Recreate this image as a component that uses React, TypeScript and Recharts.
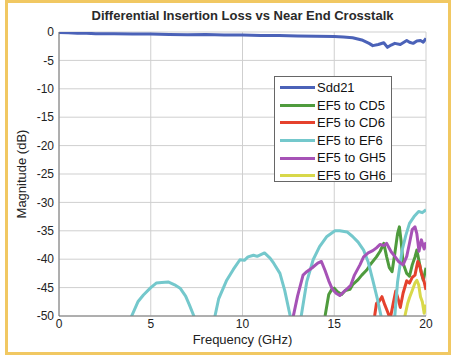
import React from 'react';
import { LineChart, Line, XAxis, YAxis, CartesianGrid, Legend } from 'recharts';

// ---- tick labels ----
const xTicks = [0, 5, 10, 15, 20];
const yTicks = [-50, -45, -40, -35, -30, -25, -20, -15, -10, -5, 0];

// ---- series names ----
const seriesNames = ['Sdd21', 'EF5 to CD5', 'EF5 to CD6', 'EF5 to EF6', 'EF5 to GH5', 'EF5 to GH6'];
const seriesColors = ['#4b62b8', '#4f9b3d', '#e5412d', '#74c8cc', '#a652b6', '#d8d84a'];

// ---- Sdd21 ----
const sdd21Freq = [0, 0.5, 1, 1.5, 2, 3, 4, 5, 6, 7, 8, 9, 10, 11, 12, 13, 14, 15, 15.5, 16, 16.5, 16.9, 17.1, 17.4, 17.7, 17.9, 18.1, 18.3, 18.6, 18.95, 19.1, 19.3, 19.5, 19.7, 19.85, 20];
const sdd21Mag = [-0.1, -0.15, -0.2, -0.22, -0.3, -0.3, -0.35, -0.35, -0.45, -0.5, -0.45, -0.55, -0.55, -0.6, -0.6, -0.7, -0.75, -0.8, -0.9, -1.0, -1.4, -2.0, -2.4, -2.2, -1.9, -2.7, -2.3, -2.0, -2.2, -1.5, -1.8, -2.0, -1.6, -1.5, -1.8, -1.1];

// ---- EF5 to CD5 ----
const cd5Freq = [14.3, 14.5, 14.7, 14.85, 15.0, 15.2, 15.4, 15.6, 15.86, 16.0, 16.3, 16.5, 16.77, 17.0, 17.3, 17.5, 17.7, 17.85, 18.0, 18.15, 18.3, 18.45, 18.55, 18.65, 18.75, 18.95, 19.1, 19.25, 19.4, 19.5, 19.6, 19.75, 19.85, 20];
const cd5Mag = [-53, -50, -46.2, -45.4, -45.1, -45.8, -46.2, -45.5, -45.3, -44.5, -43.6, -42.8, -41.9, -40.8, -39.6, -38.6, -37.2, -39.5, -41.5, -42.2, -39, -35.5, -34.3, -37, -40.7, -42.5, -43, -41, -39.6, -38.4, -40, -42.5, -43.7, -41.5];

// ---- EF5 to CD6 ----
const cd6Freq = [17.0, 17.2, 17.3, 17.45, 17.6, 17.75, 17.9, 18.05, 18.2, 18.35, 18.5, 18.6, 18.75, 18.95, 19.1, 19.25, 19.4, 19.55, 19.65, 19.75, 19.9, 20];
const cd6Mag = [-53, -50, -47.8, -47.4, -46.6, -48, -49.2, -50.5, -48, -45.6, -47.2, -48.5, -46, -43.8, -44.2, -43.2, -42.8, -40.4, -41, -42.4, -44, -45.4];

// ---- EF5 to EF6 ----
const ef6Freq = [3.7, 3.96, 4.3, 4.6, 5.0, 5.3, 5.6, 5.95, 6.3, 6.6, 6.9, 7.1, 7.35, 7.6, 7.95, 8.3, 8.5, 8.7, 9.14, 9.5, 9.86, 10.1, 10.3, 10.6, 10.8, 11.2, 11.5, 11.7, 12.04, 12.3, 12.6, 12.9, 13.2, 13.5, 13.85, 14.2, 14.6, 15.04, 15.3, 15.7, 16.0, 16.3, 16.6, 16.85, 17.1, 17.35, 17.55, 17.9, 18.3, 18.45, 18.7, 18.9, 19.1, 19.35, 19.6, 19.8, 20];
const ef6Mag = [-53, -50, -47.5, -46.3, -45, -44.2, -44.1, -44, -44.5, -45.1, -46.5, -48, -50, -53, -60, -53, -50, -47, -43.7, -41.8, -40.1, -40.2, -39.6, -39.3, -39.5, -38.9, -39.8, -40.7, -42.5, -45.5, -50, -56, -50, -44, -40.1, -37.8, -36, -35, -35, -35.2, -36, -37, -38.4, -40.5, -43.7, -47, -50, -58, -50, -44, -38.4, -35.8, -33.7, -32.5, -31.6, -31.8, -31.3];

// ---- EF5 to GH5 ----
const gh5Freq = [12.6, 12.77, 13.0, 13.3, 13.5, 13.8, 14.1, 14.3, 14.5, 14.7, 14.9, 15.1, 15.3, 15.5, 15.7, 15.9, 16.1, 16.4, 16.6, 16.85, 17.1, 17.3, 17.5, 17.7, 17.85, 18.1, 18.3, 18.5, 18.75, 18.95, 19.1, 19.25, 19.4, 19.5, 19.62, 19.75, 19.9, 20];
const gh5Mag = [-53, -50, -46.5, -42.8, -42.2, -41.5, -40.7, -40.4, -42, -43.8, -45.3, -46, -46.4, -45.8, -45.2, -44.6, -42.8, -41, -39.6, -38.9, -38.5, -38, -37.4, -37.6, -37.2, -38.7, -39.5, -40.4, -41, -39.5, -37.2, -34.8, -34.3, -35.5, -38.6, -36.6, -38.2, -37];

// ---- EF5 to GH6 ----
const gh6Freq = [18.7, 18.85, 19.0, 19.1, 19.25, 19.4, 19.5, 19.6, 19.7, 19.8, 19.9, 20];
const gh6Mag = [-53, -50, -47.8, -46.8, -45.5, -44.2, -43.7, -44.5, -46.6, -47.5, -49.5, -48];

const toData = (f: number[], v: number[]) => f.map((x, i) => ({ f: x, v: v[i] }));

const seriesData = [
  toData(sdd21Freq, sdd21Mag),
  toData(cd5Freq, cd5Mag),
  toData(cd6Freq, cd6Mag),
  toData(ef6Freq, ef6Mag),
  toData(gh5Freq, gh5Mag),
  toData(gh6Freq, gh6Mag),
];

const FONT = '"Liberation Sans", Arial, Helvetica, sans-serif';

const LegendBox = () => (
  <div
    style={{
      width: 116,
      height: 102,
      border: '1px solid #666',
      background: '#fff',
      boxSizing: 'content-box',
      paddingTop: 2,
      fontFamily: FONT,
      fontSize: 13,
      color: '#111',
    }}
  >
    {seriesNames.map((name, i) => (
      <div key={name} style={{ height: 17.6, display: 'flex', alignItems: 'center' }}>
        <div style={{ width: 35, height: 3, background: seriesColors[i], marginLeft: 5, marginRight: 2 }} />
        <span style={{ lineHeight: '17.6px', whiteSpace: 'nowrap' }}>{name}</span>
      </div>
    ))}
  </div>
);

export default function App() {
  return (
    <div style={{ position: 'absolute', left: 0, top: 0, width: 452, height: 358, background: '#fff', fontFamily: FONT }}>
      <div
        style={{
          position: 'absolute',
          left: 5,
          top: 0,
          width: 440,
          height: 349,
          border: '3px solid #f1c862',
        }}
      />
      <div
        style={{
          position: 'absolute',
          left: 59,
          width: 367,
          top: 8,
          textAlign: 'center',
          fontSize: 13,
          fontWeight: 'bold',
          color: '#2a2a2a',
        }}
      >
        Differential Insertion Loss vs Near End Crosstalk
      </div>
      <div
        style={{
          position: 'absolute',
          left: 59,
          width: 367,
          top: 332,
          textAlign: 'center',
          fontSize: 13,
          color: '#222',
        }}
      >
        Frequency (GHz)
      </div>
      <div
        style={{
          position: 'absolute',
          left: 22 - 60,
          top: 174 - 9,
          width: 120,
          height: 18,
          lineHeight: '18px',
          textAlign: 'center',
          fontSize: 13,
          color: '#222',
          transform: 'rotate(-90deg)',
        }}
      >
        Magnitude (dB)
      </div>
      <div style={{ position: 'absolute', left: 0, top: 0 }}>
        <LineChart width={452} height={358} margin={{ top: 32, right: 26, bottom: 12, left: 29 }}>
          <CartesianGrid stroke="#cfcfcf" strokeWidth={1} />
          <XAxis
            xAxisId={0}
            dataKey="f"
            type="number"
            domain={[0, 20]}
            ticks={xTicks}
            allowDataOverflow
            height={30}
            tickLine={false}
            tickSize={0}
            tickMargin={3}
            axisLine={{ stroke: '#777' }}
            tick={{ fill: '#222', fontSize: 12, fontFamily: FONT }}
            interval={0}
          />
          <XAxis xAxisId="top" orientation="top" type="number" domain={[0, 20]} height={0} tick={false} tickLine={false} axisLine={{ stroke: '#777' }} />
          <YAxis
            yAxisId={0}
            type="number"
            domain={[-50, 0]}
            ticks={yTicks}
            allowDataOverflow
            width={30}
            tickLine={false}
            tickSize={3}
            tickMargin={2}
            axisLine={{ stroke: '#777' }}
            tick={{ fill: '#222', fontSize: 12, fontFamily: FONT }}
            interval={0}
          />
          <YAxis yAxisId="right" orientation="right" type="number" domain={[-50, 0]} width={0} tick={false} tickLine={false} axisLine={{ stroke: '#777' }} />
          <Legend
            layout="vertical"
            align="center"
            verticalAlign="middle"
            content={() => <LegendBox />}
            wrapperStyle={{ position: 'absolute', left: 274, top: 76, width: 118, height: 106, margin: 0, padding: 0 }}
          />
          {seriesData.map((d, i) => (
            <Line
              key={seriesNames[i]}
              data={d}
              dataKey="v"
              name={seriesNames[i]}
              xAxisId={0}
              yAxisId={0}
              type="linear"
              stroke={seriesColors[i]}
              strokeWidth={3}
              dot={false}
              activeDot={false}
              isAnimationActive={false}
              strokeLinejoin="round"
            />
          ))}
        </LineChart>
      </div>
    </div>
  );
}
